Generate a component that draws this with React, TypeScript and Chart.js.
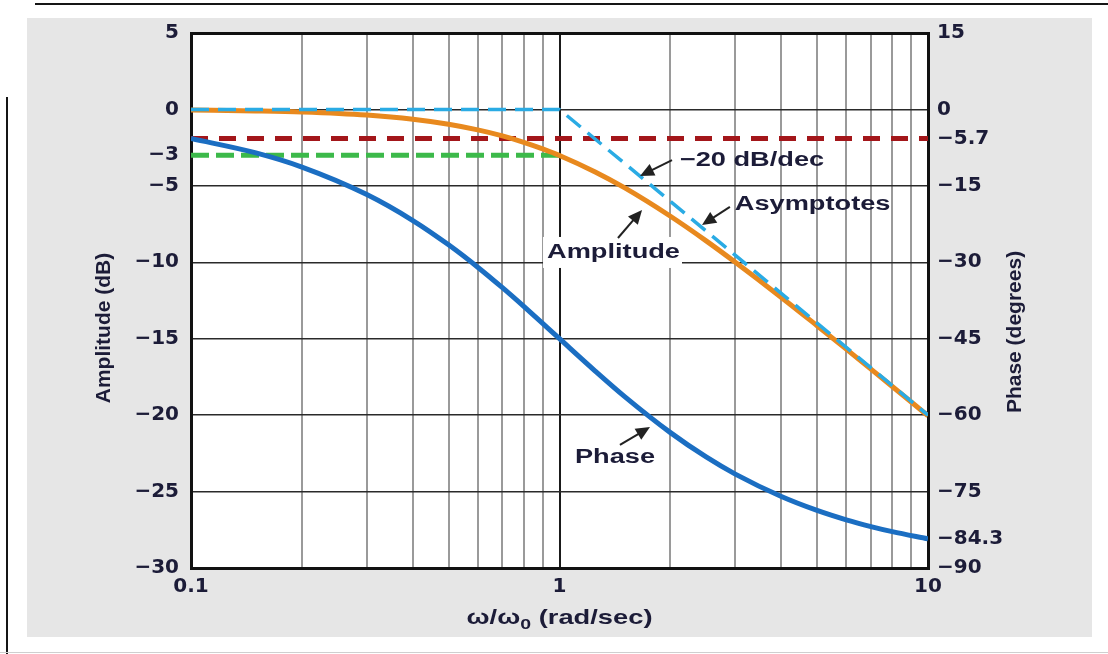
import React, { useEffect, useRef } from 'react';
import { Chart, registerables } from 'chart.js';

Chart.register(...registerables);

// ---------- data ----------
const frequency = [0.1, 0.15, 0.2, 0.3, 0.4, 0.5, 0.6, 0.7, 0.8, 0.9, 1, 1.25, 1.5, 2, 2.5, 3, 4, 5, 6, 7, 8, 10];
const amplitudeDb = [-0.04, -0.1, -0.17, -0.37, -0.64, -0.97, -1.34, -1.73, -2.15, -2.58, -3.01, -4.09, -5.12, -6.99, -8.6, -10.0, -12.3, -14.15, -15.68, -16.99, -18.13, -20.04];
const phaseDeg = [-5.71, -8.53, -11.31, -16.7, -21.8, -26.57, -30.96, -34.99, -38.66, -41.99, -45, -51.34, -56.31, -63.43, -68.2, -71.57, -75.96, -78.69, -80.54, -81.87, -82.87, -84.29];

const asymptoteFreq = [0.1, 1, 10];
const asymptoteDb = [0, 0, -20];

const cornerFreq = [0.1, 1];
const cornerDb = [-3, -3];

const phaseRefFreq = [0.1, 10];
const phaseRefDeg = [-5.7, -5.7];

const xTicks = [0.1, 0.2, 0.3, 0.4, 0.5, 0.6, 0.7, 0.8, 0.9, 1, 2, 3, 4, 5, 6, 7, 8, 9, 10];
const xLabelledTicks = [0.1, 1, 10];
const xTickLabels = ['0.1', '1', '10'];

const ampTicks = [5, 0, -3, -5, -10, -15, -20, -25, -30];
const ampGridValues = [0, -5, -10, -15, -20, -25];
const phaseTicks = [15, 0, -5.7, -15, -30, -45, -60, -75, -84.3, -90];

const annotationTexts = ['−20 dB/dec', 'Asymptotes', 'Amplitude', 'Phase'];
const xTitleParts = ['ω/ω', '0', ' (rad/sec)'];
const yTitle = 'Amplitude (dB)';
const y2Title = 'Phase (degrees)';

// ---------- layout / style ----------
const annotationLayout = [
  { tx: 2.12, ty: -3.31, from: [2.02, -3.31], to: [1.654, -4.36], box: false },
  { tx: 2.99, ty: -6.25, from: [2.9, -6.38], to: [2.436, -7.56], box: false },
  { tx: 0.925, ty: -9.39, from: [1.441, -8.41], to: [1.675, -6.58], box: true },
  { tx: 1.101, ty: -22.74, from: [1.459, -21.95], to: [1.76, -20.78], box: true },
];

const TEXT_COLOR = '#1c1c38';
const TICK_FONT = { family: "'DejaVu Sans', sans-serif", weight: 'bold' as const, size: 20 };
const SANS = "'Liberation Sans', Arial, sans-serif";
const ANN_STRETCH = 1.36;
const XTITLE_STRETCH = 1.3;

const fmt = (v: number) => (v < 0 ? '\u2212' + String(Math.abs(v)) : String(v));

function drawArrow(ctx: CanvasRenderingContext2D, x1: number, y1: number, x2: number, y2: number) {
  const ang = Math.atan2(y2 - y1, x2 - x1);
  const c = Math.cos(ang);
  const s = Math.sin(ang);
  const L = 14;
  const W = 6.5;
  ctx.beginPath();
  ctx.moveTo(x1, y1);
  ctx.lineTo(x2 - L * 0.7 * c, y2 - L * 0.7 * s);
  ctx.stroke();
  const bx = x2 - L * c;
  const by = y2 - L * s;
  ctx.beginPath();
  ctx.moveTo(x2, y2);
  ctx.lineTo(bx - W * s, by + W * c);
  ctx.lineTo(bx + W * s, by - W * c);
  ctx.closePath();
  ctx.fill();
}

const decorPlugin = {
  id: 'decor',
  beforeDraw(chart: any) {
    const { ctx, chartArea: a } = chart;
    ctx.save();
    ctx.fillStyle = '#ffffff';
    ctx.fillRect(a.left, a.top, a.right - a.left, a.bottom - a.top);
    ctx.restore();
  },
  beforeDatasetsDraw(chart: any) {
    const { ctx, chartArea: a } = chart;
    ctx.save();
    ctx.strokeStyle = '#111111';
    ctx.lineWidth = 3;
    ctx.strokeRect(a.left + 0.5, a.top + 0.5, a.right - a.left, a.bottom - a.top);
    ctx.restore();
  },
  afterDatasetsDraw(chart: any) {
    const { ctx } = chart;
    const xs = chart.scales.x;
    const ys = chart.scales.y;
    ctx.save();
    ctx.font = `bold 20px ${SANS}`;
    ctx.textBaseline = 'middle';
    ctx.textAlign = 'left';
    annotationLayout.forEach((an, i) => {
      const text = annotationTexts[i];
      const tx = xs.getPixelForValue(an.tx);
      const ty = ys.getPixelForValue(an.ty);
      if (an.box) {
        const w = ctx.measureText(text).width * ANN_STRETCH;
        ctx.fillStyle = '#ffffff';
        ctx.fillRect(tx - 4, ty - 16, w + 6, 31);
      }
      ctx.fillStyle = TEXT_COLOR;
      ctx.save();
      ctx.translate(tx, ty);
      ctx.scale(ANN_STRETCH, 1);
      ctx.fillText(text, 0, 0);
      ctx.restore();
      ctx.strokeStyle = '#222222';
      ctx.fillStyle = '#222222';
      ctx.lineWidth = 2;
      drawArrow(
        ctx,
        xs.getPixelForValue(an.from[0]),
        ys.getPixelForValue(an.from[1]),
        xs.getPixelForValue(an.to[0]),
        ys.getPixelForValue(an.to[1])
      );
    });
    ctx.restore();
  },
  afterDraw(chart: any) {
    const { ctx, chartArea: a } = chart;
    // vertical axis titles (both read bottom-to-top)
    [
      { text: yTitle, x: 104, y: 328 },
      { text: y2Title, x: 1015, y: 332 },
    ].forEach((t) => {
      ctx.save();
      ctx.font = `bold 21px ${SANS}`;
      ctx.fillStyle = TEXT_COLOR;
      ctx.textAlign = 'center';
      ctx.textBaseline = 'middle';
      ctx.translate(t.x, t.y);
      ctx.rotate(-Math.PI / 2);
      ctx.fillText(t.text, 0, 0);
      ctx.restore();
    });
    // x axis title with subscript
    ctx.save();
    ctx.fillStyle = TEXT_COLOR;
    ctx.textBaseline = 'alphabetic';
    ctx.textAlign = 'left';
    const mainFont = `bold 21px ${SANS}`;
    const subFont = `bold 15px ${SANS}`;
    ctx.font = mainFont;
    const w1 = ctx.measureText(xTitleParts[0]).width;
    const w3 = ctx.measureText(xTitleParts[2]).width;
    ctx.font = subFont;
    const w2 = ctx.measureText(xTitleParts[1]).width;
    const total = (w1 + w2 + w3) * XTITLE_STRETCH;
    const cx = (a.left + a.right) / 2;
    ctx.translate(cx - total / 2, 624);
    ctx.scale(XTITLE_STRETCH, 1);
    let x = 0;
    ctx.font = mainFont;
    ctx.fillText(xTitleParts[0], x, 0);
    x += w1;
    ctx.font = subFont;
    ctx.fillText(xTitleParts[1], x, 5);
    x += w2;
    ctx.font = mainFont;
    ctx.fillText(xTitleParts[2], x, 0);
    ctx.restore();
  },
};

export default function App() {
  const ref = useRef<HTMLCanvasElement>(null);

  useEffect(() => {
    document.body.style.margin = '0';
    const canvas = ref.current;
    if (!canvas) return;
    const pts = (xs: number[], ys: number[]) => xs.map((x, i) => ({ x, y: ys[i] }));

    const chart = new Chart(canvas, {
      type: 'line',
      data: {
        datasets: [
          {
            label: 'Asymptotes',
            data: pts(asymptoteFreq, asymptoteDb),
            yAxisID: 'y',
            borderColor: '#2aabe4',
            borderWidth: 3.5,
            borderDash: [18, 9],
            pointRadius: 0,
            fill: false,
          },
          {
            label: 'Phase',
            data: pts(frequency, phaseDeg),
            yAxisID: 'y2',
            borderColor: '#1b6ec2',
            borderWidth: 5,
            pointRadius: 0,
            cubicInterpolationMode: 'monotone',
            fill: false,
          },
          {
            label: 'Amplitude',
            data: pts(frequency, amplitudeDb),
            yAxisID: 'y',
            borderColor: '#e8891e',
            borderWidth: 5,
            pointRadius: 0,
            cubicInterpolationMode: 'monotone',
            fill: false,
          },
          {
            label: '-3 dB',
            data: pts(cornerFreq, cornerDb),
            yAxisID: 'y',
            borderColor: '#3cb94a',
            borderWidth: 5,
            borderDash: [18, 7],
            pointRadius: 0,
            fill: false,
          },
          {
            label: '-5.7 deg',
            data: pts(phaseRefFreq, phaseRefDeg),
            yAxisID: 'y2',
            borderColor: '#a3161a',
            borderWidth: 5,
            borderDash: [17, 11],
            pointRadius: 0,
            fill: false,
          },
        ],
      },
      options: {
        responsive: false,
        animation: false,
        events: [],
        layout: { padding: { top: 33, left: 0, right: 0, bottom: 0 } },
        plugins: {
          legend: { display: false },
          tooltip: { enabled: false },
        },
        scales: {
          x: {
            type: 'logarithmic',
            min: 0.1,
            max: 10,
            position: 'bottom',
            border: { display: false },
            afterBuildTicks: (scale: any) => {
              scale.ticks = xTicks.map((v) => ({ value: v }));
            },
            afterFit: (scale: any) => {
              scale.height = 86;
            },
            grid: {
              drawTicks: false,
              color: (c: any) => {
                const v = c.tick ? c.tick.value : 0;
                if (Math.abs(v - 0.1) < 1e-9 || Math.abs(v - 10) < 1e-9) return 'rgba(0,0,0,0)';
                if (Math.abs(v - 1) < 1e-9) return '#1a1a1a';
                return '#9a9a9a';
              },
              lineWidth: 2,
            },
            ticks: {
              autoSkip: false,
              maxRotation: 0,
              minRotation: 0,
              padding: 7,
              color: TEXT_COLOR,
              font: TICK_FONT,
              callback: (value: any) => {
                const idx = xLabelledTicks.findIndex((t) => Math.abs(t - Number(value)) < 1e-9);
                return idx >= 0 ? xTickLabels[idx] : '';
              },
            },
            title: { display: false },
          },
          y: {
            type: 'linear',
            position: 'left',
            min: -30,
            max: 5,
            border: { display: false },
            afterBuildTicks: (scale: any) => {
              scale.ticks = ampTicks.map((v) => ({ value: v }));
            },
            afterFit: (scale: any) => {
              scale.width = 191;
            },
            grid: {
              drawTicks: false,
              color: (c: any) =>
                c.tick && ampGridValues.includes(c.tick.value) ? '#2a2a2a' : 'rgba(0,0,0,0)',
              lineWidth: 1.5,
            },
            ticks: {
              autoSkip: false,
              padding: 12,
              color: TEXT_COLOR,
              font: TICK_FONT,
              callback: (value: any) => fmt(Number(value)),
            },
          },
          y2: {
            type: 'linear',
            position: 'right',
            min: -90,
            max: 15,
            border: { display: false },
            afterBuildTicks: (scale: any) => {
              scale.ticks = phaseTicks.map((v) => ({ value: v }));
            },
            afterFit: (scale: any) => {
              scale.width = 180;
            },
            grid: { display: false, drawTicks: false },
            ticks: {
              autoSkip: false,
              padding: 9,
              color: TEXT_COLOR,
              font: TICK_FONT,
              callback: (value: any) => fmt(Number(value)),
            },
          },
        },
      } as any,
      plugins: [decorPlugin],
    });

    return () => chart.destroy();
  }, []);

  return (
    <div style={{ position: 'relative', width: 1108, height: 654, background: '#ffffff', overflow: 'hidden' }}>
      <div style={{ position: 'absolute', left: 35, top: 3, width: 1073, height: 2, background: '#151515' }} />
      <div style={{ position: 'absolute', left: 6, top: 97, width: 2, height: 557, background: '#151515' }} />
      <div style={{ position: 'absolute', left: 27, top: 18, width: 1065, height: 619, background: '#e6e6e6' }} />
      <div style={{ position: 'absolute', left: 0, top: 652, width: 1108, height: 1, background: '#cfcfcf' }} />
      <canvas ref={ref} width={1108} height={654} style={{ position: 'absolute', left: 0, top: 0 }} />
    </div>
  );
}
